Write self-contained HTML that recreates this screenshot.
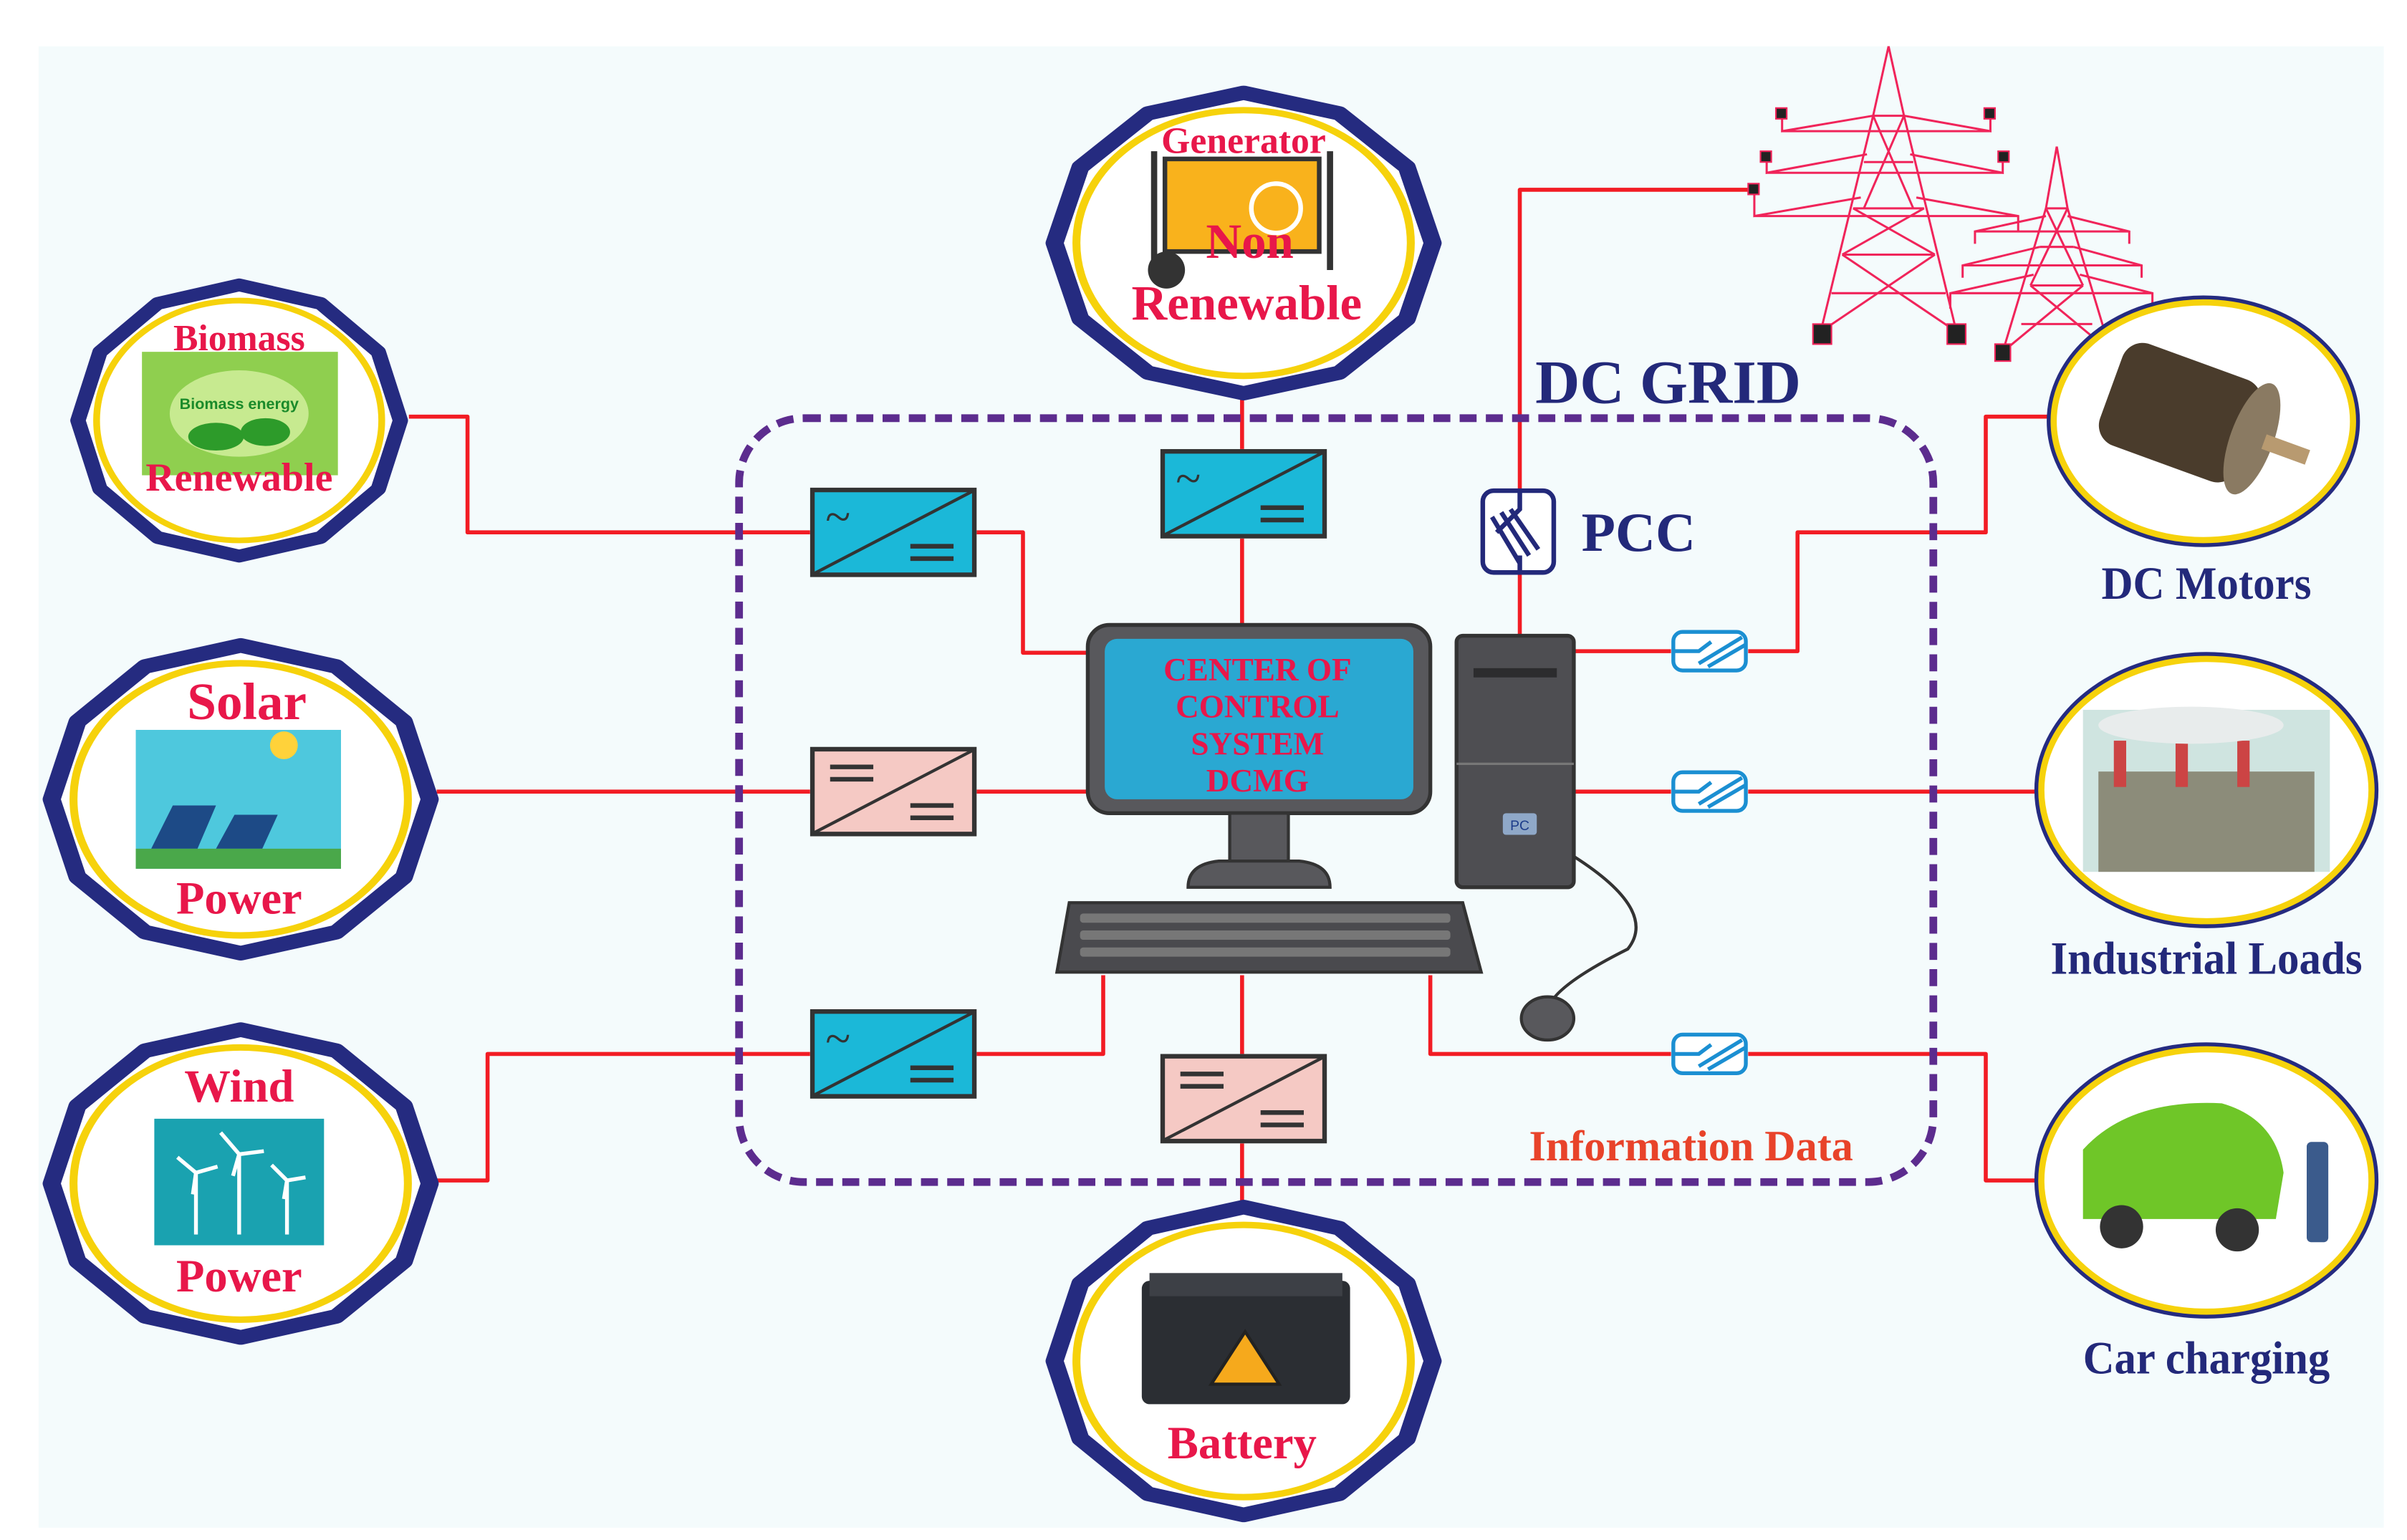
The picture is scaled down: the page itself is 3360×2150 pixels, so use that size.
<!DOCTYPE html>
<html><head><meta charset="utf-8"><style>
html,body{margin:0;padding:0;background:#fff;}
svg{display:block;}
.nt{font-family:"Liberation Serif",serif;font-weight:bold;fill:#e8174a;text-anchor:middle;}
.bl{font-family:"Liberation Serif",serif;font-weight:bold;fill:#23297a;}
.ln{fill:none;stroke:#f21c24;stroke-width:2.6;stroke-linejoin:round;}
.tw{fill:none;stroke:#f0245a;stroke-width:1.4;}
</style></head><body>
<svg width="3360" height="2150" viewBox="0 0 1560 998" preserveAspectRatio="none" xmlns="http://www.w3.org/2000/svg">
<defs>
<symbol id="oct" viewBox="-100 -100 200 200" preserveAspectRatio="none">
<polygon points="0,-95 48,-82 82,-48 95,0 82,48 48,82 0,95 -48,82 -82,48 -95,0 -82,-48 -48,-82" fill="#fff" stroke="#252b80" stroke-width="9" stroke-linejoin="round"/>
<ellipse cx="0" cy="0" rx="84" ry="84" fill="#fff" stroke="#f6d20b" stroke-width="4"/>
</symbol>
<symbol id="conv" viewBox="0 0 108 58" preserveAspectRatio="none">
<rect x="1.5" y="1.5" width="105" height="55" stroke="#333" stroke-width="3"/>
<line x1="2" y1="56" x2="106" y2="2" stroke="#333" stroke-width="2"/>
</symbol>
<symbol id="dd" viewBox="0 0 50 28">
<rect x="1.5" y="1.5" width="47" height="25" rx="6" fill="#fff" stroke="#1b8fd2" stroke-width="2.5"/>
<path d="M2 14 H18 L26 8 M18 22 L46 5 M24 24 L48 10" fill="none" stroke="#1b8fd2" stroke-width="2.5"/>
</symbol>
</defs>
<rect x="0" y="0" width="1560" height="998" fill="#fff"/>
<rect x="25" y="30" width="1520" height="960" fill="#f4fbfc"/>

<!-- red lines -->
<path class="ln" d="M265 270 H303 V345 H525"/>
<path class="ln" d="M633 345 H663 V423 H712"/>
<path class="ln" d="M805 255 V291 M805 349 V410"/>
<path class="ln" d="M283 513 H525 M633 513 H712"/>
<path class="ln" d="M283 765 H316 V683 H525"/>
<path class="ln" d="M633 683 H715 V632"/>
<path class="ln" d="M805 632 V683 M805 741 V782"/>
<path class="ln" d="M985 412 V123 H1137"/>
<path class="ln" d="M1020 422 H1083 M1133 422 H1165 V345 H1287 V270 H1330"/>
<path class="ln" d="M1020 513 H1083 M1133 513 H1322"/>
<path class="ln" d="M927 632 V683 H1083 M1133 683 H1287 V765 H1322"/>

<!-- dashed grid boundary -->
<rect x="479" y="271" width="774" height="495" rx="42" fill="none" stroke="#5c2c8e" stroke-width="5" stroke-dasharray="11 6"/>

<!-- converters -->
<use href="#conv" x="525" y="316" width="108" height="58" fill="#1bb8d8"/>
<use href="#conv" x="752" y="291" width="108" height="58" fill="#1bb8d8"/>
<use href="#conv" x="525" y="654" width="108" height="58" fill="#1bb8d8"/>
<use href="#conv" x="525" y="484" width="108" height="58" fill="#f5c9c4"/>
<use href="#conv" x="752" y="683" width="108" height="58" fill="#f5c9c4"/>
<g font-family="Liberation Serif,serif" font-size="30" fill="#333">
<text x="535" y="345">~</text><text x="762" y="320">~</text><text x="535" y="683">~</text>
</g>
<g stroke="#333" stroke-width="3">
<path d="M590 354 h28 M590 362 h28 M817 329 h28 M817 337 h28 M590 692 h28 M590 700 h28"/>
<path d="M538 497 h28 M538 505 h28 M590 522 h28 M590 530 h28 M765 696 h28 M765 704 h28 M817 721 h28 M817 729 h28"/>
</g>

<use href="#dd" x="1083" y="408" width="50" height="28"/>
<use href="#dd" x="1083" y="499" width="50" height="28"/>
<use href="#dd" x="1083" y="669" width="50" height="28"/>

<!-- PCC -->
<rect x="961" y="318" width="46" height="53" rx="7" fill="#fff" stroke="#23297a" stroke-width="3"/>
<path d="M985 318 V330 L970 345 M985 372 V360 M967 335 L985 365 M973 332 L991 360 M979 330 L997 356" fill="none" stroke="#23297a" stroke-width="3"/>
<text class="bl" x="1025" y="357" font-size="36">PCC</text>
<text class="bl" x="995" y="261" font-size="40">DC GRID</text>
<text x="1096" y="752" font-family="Liberation Serif,serif" font-weight="bold" font-size="28" fill="#e8432a" text-anchor="middle" textLength="210" lengthAdjust="spacingAndGlyphs">Information Data</text>

<!-- towers -->
<g class="tw">
<path d="M1224 30 L1214 75 L1180 215 M1224 30 L1234 75 L1268 215 M1214 75 H1234 M1208 105 H1240 M1201 135 H1247 M1194 165 H1254 M1187 190 H1261 M1214 75 L1240 135 M1234 75 L1208 135 M1201 135 L1254 165 M1247 135 L1194 165 M1194 165 L1268 215 M1254 165 L1180 215"/>
<path d="M1214 75 L1155 85 V72 M1234 75 L1290 85 V72 M1155 85 H1290 M1210 100 L1145 112 V100 M1238 100 L1298 112 V100 M1145 112 H1298 M1206 128 L1137 140 V123 M1242 128 L1308 140 V150 M1137 140 H1308"/>
<path d="M1333 95 L1326 135 L1298 228 M1333 95 L1340 135 L1368 228 M1326 135 H1340 M1322 160 H1344 M1316 185 H1350 M1310 210 H1356 M1326 135 L1350 185 M1340 135 L1316 185 M1316 185 L1368 228 M1350 185 L1298 228"/>
<path d="M1326 140 L1280 150 V158 M1340 140 L1380 150 V158 M1280 150 H1380 M1322 160 L1272 172 V180 M1344 160 L1388 172 V180 M1272 172 H1388 M1318 178 L1264 190 V200 M1348 178 L1395 190 V200 M1264 190 H1395"/>
</g>
<g fill="#222" stroke="#f0245a" stroke-width="1">
<rect x="1175" y="210" width="12" height="13"/><rect x="1262" y="210" width="12" height="13"/>
<rect x="1293" y="223" width="10" height="11"/><rect x="1360" y="223" width="10" height="11"/>
<rect x="1151" y="70" width="7" height="7"/><rect x="1286" y="70" width="7" height="7"/>
<rect x="1141" y="98" width="7" height="7"/><rect x="1295" y="98" width="7" height="7"/>
<rect x="1133" y="119" width="7" height="7"/>
</g>

<!-- left / top / bottom nodes -->
<use href="#oct" x="45" y="180" width="220" height="185"/>
<use href="#oct" x="27" y="413" width="258" height="210"/>
<use href="#oct" x="27" y="662" width="258" height="210"/>
<use href="#oct" x="677" y="55" width="258" height="205"/>
<use href="#oct" x="677" y="777" width="258" height="210"/>

<!-- node images -->
<rect x="92" y="228" width="127" height="80" fill="#8fcf4f"/>
<ellipse cx="155" cy="268" rx="45" ry="28" fill="#c7ea90"/>
<text x="155" y="265" font-family="Liberation Sans,sans-serif" font-size="10" font-weight="bold" fill="#1a8a2a" text-anchor="middle">Biomass energy</text>
<ellipse cx="140" cy="283" rx="18" ry="9" fill="#2d9b2a"/><ellipse cx="172" cy="280" rx="16" ry="9" fill="#2d9b2a"/>

<rect x="88" y="473" width="133" height="90" fill="#4ec8dd"/>
<circle cx="184" cy="483" r="9" fill="#ffd23a"/>
<polygon points="98,550 112,522 140,522 128,550" fill="#1d4a86"/>
<polygon points="140,550 152,528 180,528 170,550" fill="#1d4a86"/>
<rect x="88" y="550" width="133" height="13" fill="#4aa84a"/>

<rect x="100" y="725" width="110" height="82" fill="#1aa2b0"/>
<g stroke="#fff" stroke-width="2.5"><path d="M127 800 V760 M155 800 V748 M186 800 V765 M127 760 l-12 -10 M127 760 l14 -4 M127 760 l-2 14 M155 748 l-12 -14 M155 748 l16 -2 M155 748 l-4 14 M186 765 l-10 -10 M186 765 l12 -2 M186 765 l-2 12"/></g>

<rect x="755" y="103" width="100" height="60" fill="#f9b21c" stroke="#333" stroke-width="3"/>
<path d="M748 98 V175 M862 98 V175" stroke="#333" stroke-width="4"/>
<circle cx="756" cy="175" r="12" fill="#333"/>
<circle cx="827" cy="135" r="16" fill="none" stroke="#fff" stroke-width="3"/>

<rect x="740" y="830" width="135" height="80" rx="5" fill="#2b2e33"/>
<rect x="745" y="825" width="125" height="15" fill="#3d4046"/>
<polygon points="807,863 785,897 829,897" fill="#f6a91c" stroke="#222" stroke-width="2"/>

<text class="nt" x="806" y="99" font-size="24">Generator</text>
<text class="nt" x="810" y="167" font-size="32">Non</text>
<text class="nt" x="808" y="207" font-size="32">Renewable</text>
<text class="nt" x="155" y="227" font-size="24">Biomass</text>
<text class="nt" x="155" y="318" font-size="26">Renewable</text>
<text class="nt" x="160" y="466" font-size="34">Solar</text>
<text class="nt" x="155" y="592" font-size="30">Power</text>
<text class="nt" x="155" y="714" font-size="30">Wind</text>
<text class="nt" x="155" y="837" font-size="30">Power</text>
<text class="nt" x="805" y="945" font-size="30">Battery</text>

<!-- right nodes -->
<ellipse cx="1428" cy="273" rx="100" ry="80" fill="#fff" stroke="#252b80" stroke-width="3"/>
<ellipse cx="1428" cy="273" rx="97" ry="77" fill="none" stroke="#f6d20b" stroke-width="4"/>
<ellipse cx="1430" cy="512" rx="110" ry="88" fill="#fff" stroke="#252b80" stroke-width="3"/>
<ellipse cx="1430" cy="512" rx="107" ry="85" fill="none" stroke="#f6d20b" stroke-width="4"/>
<ellipse cx="1430" cy="765" rx="110" ry="88" fill="#fff" stroke="#252b80" stroke-width="3"/>
<ellipse cx="1430" cy="765" rx="107" ry="85" fill="none" stroke="#f6d20b" stroke-width="4"/>

<g transform="rotate(20 1420 270)">
<rect x="1365" y="235" width="95" height="70" rx="14" fill="#4a3c2c"/>
<ellipse cx="1462" cy="270" rx="14" ry="38" fill="#8a7a62"/>
<rect x="1470" y="264" width="30" height="10" fill="#b89a70"/>
</g>
<rect x="1350" y="460" width="160" height="105" fill="#cfe4e0"/>
<rect x="1360" y="500" width="140" height="65" fill="#8c8c7a"/>
<rect x="1370" y="480" width="8" height="30" fill="#c44"/><rect x="1410" y="475" width="8" height="35" fill="#c44"/><rect x="1450" y="480" width="8" height="30" fill="#c44"/>
<ellipse cx="1420" cy="470" rx="60" ry="12" fill="#e8ecec"/>
<path d="M1350 745 Q1380 712 1440 715 Q1475 725 1480 760 L1475 790 L1350 790 Z" fill="#6fc628"/>
<circle cx="1375" cy="795" r="14" fill="#333"/><circle cx="1450" cy="797" r="14" fill="#333"/>
<rect x="1495" y="740" width="14" height="65" rx="3" fill="#3b5b8c"/>

<text class="bl" x="1430" y="388" font-size="30" text-anchor="middle" textLength="136" lengthAdjust="spacingAndGlyphs">DC Motors</text>
<text class="bl" x="1430" y="631" font-size="30" text-anchor="middle" textLength="202" lengthAdjust="spacingAndGlyphs">Industrial Loads</text>
<text class="bl" x="1430" y="890" font-size="30" text-anchor="middle" textLength="160" lengthAdjust="spacingAndGlyphs">Car charging</text>

<!-- computer -->
<rect x="705" y="405" width="222" height="122" rx="14" fill="#58585c" stroke="#333" stroke-width="2.5"/>
<rect x="716" y="414" width="200" height="104" rx="8" fill="#2aa8d2"/>
<g font-family="Liberation Serif,serif" font-weight="bold" font-size="21" fill="#e8174a" text-anchor="middle">
<text x="815" y="441">CENTER OF</text><text x="815" y="465">CONTROL</text><text x="815" y="489">SYSTEM</text><text x="815" y="513">DCMG</text>
</g>
<rect x="797" y="527" width="38" height="40" fill="#58585c" stroke="#333" stroke-width="2"/>
<path d="M770 575 Q770 560 790 558 H842 Q862 560 862 575 Z" fill="#58585c" stroke="#333" stroke-width="2"/>
<path d="M693 585 H948 L960 630 H685 Z" fill="#4a4a4e" stroke="#333" stroke-width="2"/>
<g fill="#777">
<rect x="700" y="592" width="240" height="6" rx="2"/><rect x="700" y="603" width="240" height="6" rx="2"/><rect x="700" y="614" width="240" height="6" rx="2"/>
</g>
<rect x="944" y="412" width="76" height="163" rx="4" fill="#4e4e52" stroke="#333" stroke-width="2.5"/>
<rect x="955" y="433" width="54" height="6" fill="#2c2c2e"/>
<line x1="944" y1="495" x2="1020" y2="495" stroke="#777" stroke-width="1.5"/>
<rect x="974" y="527" width="22" height="14" rx="2" fill="#8fa8c8"/>
<text x="985" y="538" font-family="Liberation Sans,sans-serif" font-size="9" fill="#1d3d8a" text-anchor="middle">PC</text>
<path d="M1020 555 Q1075 590 1055 615 Q1005 640 1003 655" fill="none" stroke="#333" stroke-width="2"/>
<ellipse cx="1003" cy="660" rx="17" ry="14" fill="#58585c" stroke="#333" stroke-width="2"/>
</svg>
</body></html>
